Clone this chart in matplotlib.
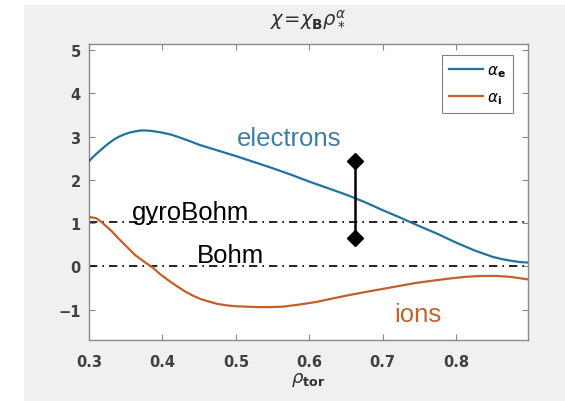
import matplotlib
matplotlib.use("Agg")
import matplotlib.pyplot as plt
from matplotlib.patches import Rectangle

# electron alpha profile
rho_e = [0.300, 0.305, 0.310, 0.318, 0.325, 0.333, 0.340, 0.348, 0.355, 0.363,
         0.370, 0.378, 0.385, 0.393, 0.400, 0.413, 0.425, 0.438, 0.450,
         0.475, 0.500, 0.525, 0.550, 0.575, 0.600, 0.625, 0.650, 0.675, 0.700,
         0.725, 0.750, 0.775, 0.800, 0.825, 0.850, 0.862, 0.875, 0.887, 0.898]
alpha_e = [2.43, 2.52, 2.60, 2.72, 2.82, 2.92, 2.99, 3.05, 3.09, 3.12,
           3.14, 3.14, 3.13, 3.11, 3.09, 3.04, 2.97, 2.89, 2.81,
           2.68, 2.55, 2.41, 2.27, 2.12, 1.96, 1.81, 1.66, 1.49, 1.30,
           1.12, 0.93, 0.75, 0.55, 0.37, 0.22, 0.17, 0.13, 0.10, 0.09]

# ion alpha profile
rho_i = [0.300, 0.305, 0.310, 0.316, 0.322, 0.330, 0.340, 0.350, 0.363, 0.375,
         0.387, 0.397, 0.408, 0.420, 0.431, 0.442, 0.453, 0.465, 0.476, 0.488,
         0.499, 0.515, 0.530, 0.547, 0.564, 0.587, 0.610, 0.632, 0.655, 0.677,
         0.700, 0.723, 0.746, 0.768, 0.791, 0.813, 0.836, 0.855, 0.873, 0.886, 0.898]
alpha_i = [1.14, 1.13, 1.11, 1.04, 0.95, 0.83, 0.65, 0.48, 0.26, 0.11,
           -0.03, -0.18, -0.32, -0.46, -0.58, -0.68, -0.76, -0.82, -0.87, -0.90,
           -0.92, -0.93, -0.94, -0.94, -0.93, -0.88, -0.82, -0.74, -0.66, -0.59,
           -0.52, -0.45, -0.38, -0.33, -0.28, -0.24, -0.22, -0.22, -0.24, -0.27, -0.30]

gyrobohm_level = 1.03
bohm_level = 0.0

# error bar
err_x = [0.662, 0.662]
err_y = [0.65, 2.43]

xticks = [0.3, 0.4, 0.5, 0.6, 0.7, 0.8]
yticks = [-1, 0, 1, 2, 3, 4, 5]

col_e = '#2272a0'
col_i = '#c0602c'
tick_col = '#404040'
spine_col = '#8a8a8a'

fig = plt.figure(figsize=(5.65, 4.02), dpi=100)
fig.patch.set_facecolor('white')
bg = Rectangle((24 / 565, 0), 1, 1 - 6 / 402, transform=fig.transFigure,
               facecolor='#f0f0f0', edgecolor='none', zorder=-10)
fig.add_artist(bg)

ax = fig.add_axes([89 / 565, 1 - 341 / 402, 439 / 565, 296.5 / 402])
ax.set_facecolor('white')

ax.plot(rho_e, alpha_e, color=col_e, lw=1.6, label=r'$\alpha_{\mathbf{e}}$', zorder=3)
ax.plot(rho_i, alpha_i, color=col_i, lw=1.6, label=r'$\alpha_{\mathbf{i}}$', zorder=3)

ds = (0, (5, 3, 1, 3))
ax.axhline(gyrobohm_level, color='black', lw=1.2, ls=ds, zorder=2)
ax.axhline(bohm_level, color='black', lw=1.2, ls=ds, zorder=2)

ax.plot(err_x, err_y, color='black', lw=1.8, marker='D', markersize=8, zorder=4)

ax.text(0.501, 2.80, 'electrons', color='#3f80a0', fontsize=18.5,
        family='Liberation Sans', va='baseline', ha='left')
ax.text(0.716, -1.26, 'ions', color='#c0652e', fontsize=18.5,
        family='Liberation Sans', va='baseline', ha='left')
ax.text(0.359, 1.09, 'gyroBohm', color='black', fontsize=18.5,
        family='Liberation Sans', va='baseline', ha='left')
ax.text(0.447, 0.10, 'Bohm', color='black', fontsize=18.5,
        family='Liberation Sans', va='baseline', ha='left')

ax.set_xlim(0.3, 0.898)
ax.set_ylim(-1.7, 5.15)
ax.set_xticks(xticks)
ax.set_yticks(yticks)
ax.set_xticklabels(['0.3', '0.4', '0.5', '0.6', '0.7', '0.8'])
ax.set_yticklabels(['\u22121', '0', '1', '2', '3', '4', '5'])
ax.tick_params(direction='in', length=4, width=0.8, color=spine_col,
               top=True, right=True, labelcolor=tick_col, labelsize=10.5)
ax.tick_params(axis='x', pad=10)
ax.tick_params(axis='y', pad=6)
for lab in ax.get_xticklabels() + ax.get_yticklabels():
    lab.set_fontweight('bold')
for sp in ax.spines.values():
    sp.set_color(spine_col)
    sp.set_linewidth(1.0)

ax.set_title(r'$\chi\!=\!\chi_{\mathbf{B}}\rho_*^{\alpha}$', fontsize=14, color='#303030', pad=14)
ax.set_xlabel(r'$\rho_{\mathbf{tor}}$', fontsize=13, color='#303030', labelpad=1)

leg = ax.legend(loc='upper right', bbox_to_anchor=(0.966, 0.961), borderaxespad=0,
                fontsize=11, handlelength=2.2, handletextpad=0.3, labelspacing=0.7,
                borderpad=0.45, fancybox=False, frameon=True)
leg.get_frame().set_edgecolor('#606060')
leg.get_frame().set_linewidth(0.8)

fig.savefig('out.png', dpi=100)
